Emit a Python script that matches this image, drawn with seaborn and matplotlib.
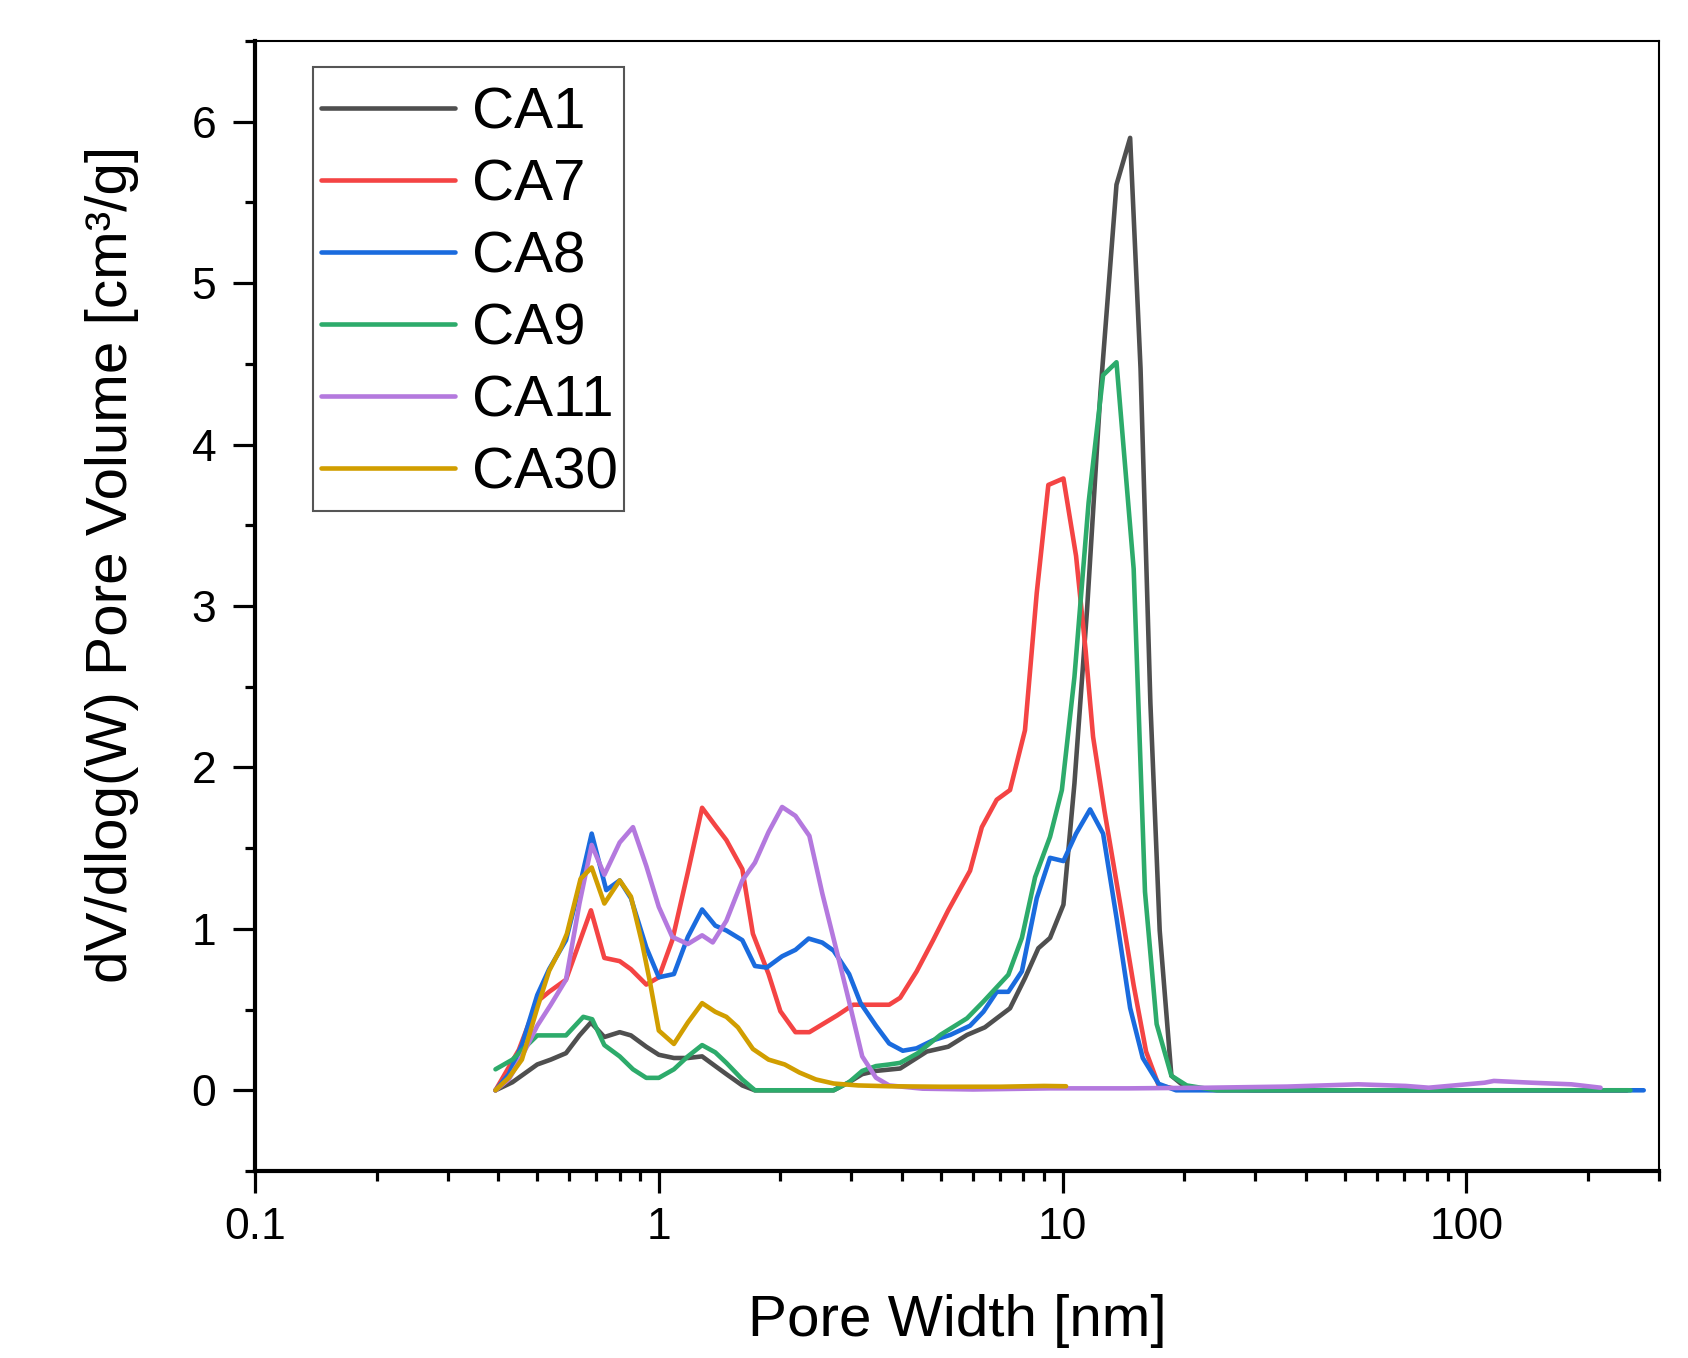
import numpy as np
import pandas as pd
import matplotlib
matplotlib.use("Agg")
import matplotlib.pyplot as plt
import seaborn as sns
from matplotlib.patches import Rectangle
from matplotlib.ticker import FixedLocator, MultipleLocator, LogLocator, NullFormatter, FixedFormatter

# ---------------- data ----------------
ca1_x = [0.394, 0.434, 0.50, 0.54, 0.589, 0.636, 0.679, 0.733, 0.80, 0.853, 0.931, 1.0, 1.09, 1.18, 1.28,
         1.38, 1.47, 1.61, 1.73, 2.2, 2.71, 2.96, 3.19, 3.45, 3.96, 4.61, 5.21, 5.80, 6.42, 6.87, 7.41, 8.07,
         8.71, 9.31, 10.05, 10.7, 11.5, 12.4, 13.6, 14.7, 15.6, 16.5, 17.4, 18.6, 19.9, 22, 30, 50, 100, 150, 250]
ca1_y = [0, 0.05, 0.16, 0.19, 0.23, 0.34, 0.42, 0.33, 0.36, 0.34, 0.27, 0.22, 0.20, 0.20, 0.21,
         0.15, 0.10, 0.03, 0, 0, 0, 0.05, 0.10, 0.12, 0.135, 0.24, 0.27, 0.343, 0.39, 0.446, 0.508, 0.695,
         0.88, 0.944, 1.15, 1.90, 2.98, 4.31, 5.61, 5.90, 4.47, 2.40, 0.99, 0.09, 0.03, 0.01, 0, 0, 0, 0, 0]

ca7_x = [0.394, 0.45, 0.50, 0.535, 0.589, 0.679, 0.733, 0.80, 0.853, 0.931, 1.0, 1.08, 1.18, 1.28, 1.38,
         1.47, 1.61, 1.71, 1.87, 2.0, 2.18, 2.36, 2.77, 3.03, 3.72, 3.96, 4.35, 4.78, 5.21, 5.90, 6.31,
         6.87, 7.41, 8.07, 8.63, 9.22, 10.05, 10.8, 11.4, 11.9, 12.7, 13.9, 15.0, 16.1, 17.3, 19, 25, 50,
         100, 250]
ca7_y = [0, 0.25, 0.55, 0.61, 0.685, 1.115, 0.82, 0.80, 0.75, 0.655, 0.70, 0.93, 1.35, 1.75, 1.64,
         1.55, 1.37, 0.97, 0.72, 0.49, 0.36, 0.36, 0.465, 0.53, 0.53, 0.573, 0.736, 0.93, 1.115, 1.36, 1.63,
         1.80, 1.86, 2.23, 3.08, 3.75, 3.79, 3.31, 2.73, 2.19, 1.73, 1.15, 0.65, 0.24, 0.03, 0.01, 0, 0,
         0, 0]

ca8_x = [0.394, 0.425, 0.458, 0.50, 0.535, 0.589, 0.636, 0.682, 0.741, 0.80, 0.853, 0.931, 1.0, 1.09,
         1.18, 1.28, 1.38, 1.47, 1.61, 1.73, 1.85, 2.02, 2.18, 2.35, 2.54, 2.71, 2.96, 3.16, 3.45, 3.72,
         4.02, 4.35, 4.78, 5.27, 5.90, 6.37, 6.87, 7.34, 7.93, 8.63, 9.31, 10.05, 10.8, 11.7, 12.6, 13.6,
         14.7, 15.8, 17.3, 19.1, 30, 60, 120, 275]
ca8_y = [0, 0.10, 0.28, 0.59, 0.75, 0.93, 1.26, 1.59, 1.24, 1.30, 1.19, 0.885, 0.70, 0.72,
         0.95, 1.12, 1.02, 0.99, 0.93, 0.77, 0.76, 0.83, 0.87, 0.94, 0.915, 0.865, 0.72, 0.54, 0.40, 0.29,
         0.245, 0.26, 0.31, 0.343, 0.40, 0.487, 0.61, 0.61, 0.737, 1.19, 1.44, 1.42, 1.59, 1.74, 1.59, 1.07,
         0.51, 0.20, 0.04, 0, 0, 0, 0, 0]

ca9_x = [0.394, 0.434, 0.50, 0.589, 0.65, 0.684, 0.733, 0.80, 0.863, 0.931, 1.0, 1.09, 1.18, 1.28, 1.38,
         1.47, 1.61, 1.73, 2.2, 2.71, 2.96, 3.19, 3.45, 3.72, 3.96, 4.38, 4.98, 5.80, 6.37, 7.34, 7.93,
         8.55, 9.31, 9.96, 10.7, 11.6, 12.6, 13.6, 15.0, 16.0, 17.1, 18.6, 20.3, 24.1, 50, 100, 255]
ca9_y = [0.13, 0.19, 0.34, 0.34, 0.455, 0.44, 0.28, 0.21, 0.13, 0.077, 0.077, 0.13, 0.21, 0.28, 0.235,
         0.17, 0.067, 0, 0, 0, 0.05, 0.12, 0.15, 0.16, 0.17, 0.23, 0.343, 0.446, 0.55, 0.716, 0.944,
         1.32, 1.57, 1.86, 2.56, 3.64, 4.43, 4.51, 3.23, 1.23, 0.41, 0.09, 0.03, 0, 0, 0, 0]

ca11_x = [0.394, 0.425, 0.458, 0.50, 0.54, 0.589, 0.636, 0.682, 0.733, 0.80, 0.863, 0.931, 1.0, 1.08,
          1.18, 1.28, 1.36, 1.47, 1.61, 1.73, 1.87, 2.02, 2.18, 2.36, 2.54, 2.77, 2.96, 3.19, 3.45, 3.72,
          4.5, 6.0, 9.3, 14.6, 22.9, 36, 54, 70.8, 80.7, 111, 117, 145, 182, 215]
ca11_y = [0, 0.067, 0.21, 0.40, 0.53, 0.685, 1.157, 1.52, 1.335, 1.535, 1.63, 1.39, 1.136, 0.95,
          0.906, 0.96, 0.916, 1.05, 1.30, 1.41, 1.60, 1.755, 1.70, 1.576, 1.22, 0.843, 0.55, 0.21, 0.078,
          0.03, 0.01, 0.005, 0.012, 0.012, 0.016, 0.023, 0.037, 0.027, 0.016, 0.047, 0.058, 0.047, 0.037,
          0.016]

ca30_x = [0.394, 0.425, 0.458, 0.50, 0.535, 0.573, 0.592, 0.640, 0.682, 0.733, 0.80, 0.853, 0.91, 0.95,
          1.0, 1.09, 1.18, 1.28, 1.38, 1.47, 1.57, 1.71, 1.87, 2.05, 2.23, 2.45, 2.71, 3.12, 3.72, 5.0,
          7.0, 9.0, 10.2]
ca30_y = [0, 0.078, 0.19, 0.51, 0.74, 0.885, 0.97, 1.31, 1.38, 1.157, 1.30, 1.20, 0.906, 0.675,
          0.37, 0.287, 0.42, 0.54, 0.486, 0.455, 0.39, 0.256, 0.19, 0.16, 0.11, 0.067, 0.042, 0.03, 0.025,
          0.022, 0.022, 0.027, 0.025]

labels = ["CA1", "CA7", "CA8", "CA9", "CA11", "CA30"]
colors = ["#4f4f4f", "#f44444", "#1a6bde", "#2dab6b", "#b479de", "#d19e00"]

series_x = [ca1_x, ca7_x, ca8_x, ca9_x, ca11_x, ca30_x]
series_y = [ca1_y, ca7_y, ca8_y, ca9_y, ca11_y, ca30_y]

frames = []
for lab, xs, ys in zip(labels, series_x, series_y):
    frames.append(pd.DataFrame({"width": xs, "volume": ys, "sample": lab}))
df = pd.concat(frames, ignore_index=True)

# ---------------- style ----------------
sns.set_theme(style="ticks")
plt.rcParams['font.family'] = ['Liberation Sans', 'DejaVu Sans']
plt.rcParams['axes.unicode_minus'] = False
plt.rcParams['text.color'] = 'black'
plt.rcParams['axes.labelcolor'] = 'black'
plt.rcParams['xtick.color'] = 'black'
plt.rcParams['ytick.color'] = 'black'

fig = plt.figure(figsize=(16.88, 13.58), dpi=100)
ax = fig.add_axes([0.1511, 0.1377, 0.9828 - 0.1511, 0.9698 - 0.1377])

LW = 3.3
sns.lineplot(data=df, x="width", y="volume", hue="sample", hue_order=labels,
             palette=dict(zip(labels, colors)), linewidth=LW, ax=ax,
             estimator=None, sort=True)
for ln in ax.get_lines():
    ln.set_solid_joinstyle("round")
    ln.set_solid_capstyle("round")

ax.set_xscale("log")
ax.set_xlim(0.1, 300)
ax.set_ylim(-0.5, 6.5)

ax.xaxis.set_major_locator(FixedLocator([0.1, 1, 10, 100]))
ax.xaxis.set_major_formatter(FixedFormatter(["0.1", "1", "10", "100"]))
ax.xaxis.set_minor_locator(LogLocator(base=10, subs=np.arange(2, 10), numticks=20))
ax.xaxis.set_minor_formatter(NullFormatter())
ax.yaxis.set_major_locator(FixedLocator([0, 1, 2, 3, 4, 5, 6]))
ax.yaxis.set_minor_locator(MultipleLocator(0.5))

ax.tick_params(which="major", direction="out", length=16, width=2.3, labelsize=32,
               colors="black", top=False, right=False)
ax.tick_params(which="minor", direction="out", length=7.5, width=2.3, colors="black",
               top=False, right=False)
ax.tick_params(axis="y", which="major", pad=12)
ax.tick_params(axis="x", which="major", pad=10)

for side in ["left", "bottom"]:
    ax.spines[side].set_linewidth(3.0)
    ax.spines[side].set_color("black")
for side in ["top", "right"]:
    ax.spines[side].set_linewidth(1.5)
    ax.spines[side].set_color("black")
    ax.spines[side].set_visible(True)

ax.set_xlabel("Pore Width [nm]", fontsize=42, color="black")
ax.set_ylabel("dV/dlog(W) Pore Volume [cm³/g]", fontsize=42, color="black")
ax.xaxis.set_label_coords(0.5, -0.109)
ax.yaxis.set_label_coords(-0.083, 0.537)

# legend (frame drawn as a separate box so padding matches the original software)
leg = ax.legend(loc="upper left", bbox_to_anchor=(0.047, 0.9596), borderaxespad=0,
                fontsize=42, frameon=False, handlelength=2.3, handletextpad=0.29,
                borderpad=0, labelspacing=0.307, title=None, labelcolor="black")
leg.set_zorder(6)
for line in leg.get_lines():
    line.set_linewidth(LW)
    line.set_solid_capstyle("round")
ax.add_patch(Rectangle((0.0413, 0.584), 0.2628 - 0.0413, 0.977 - 0.584, transform=ax.transAxes,
                       facecolor="white", edgecolor="#555555", linewidth=1.5, zorder=5))

fig.savefig("out.png", dpi=100)
